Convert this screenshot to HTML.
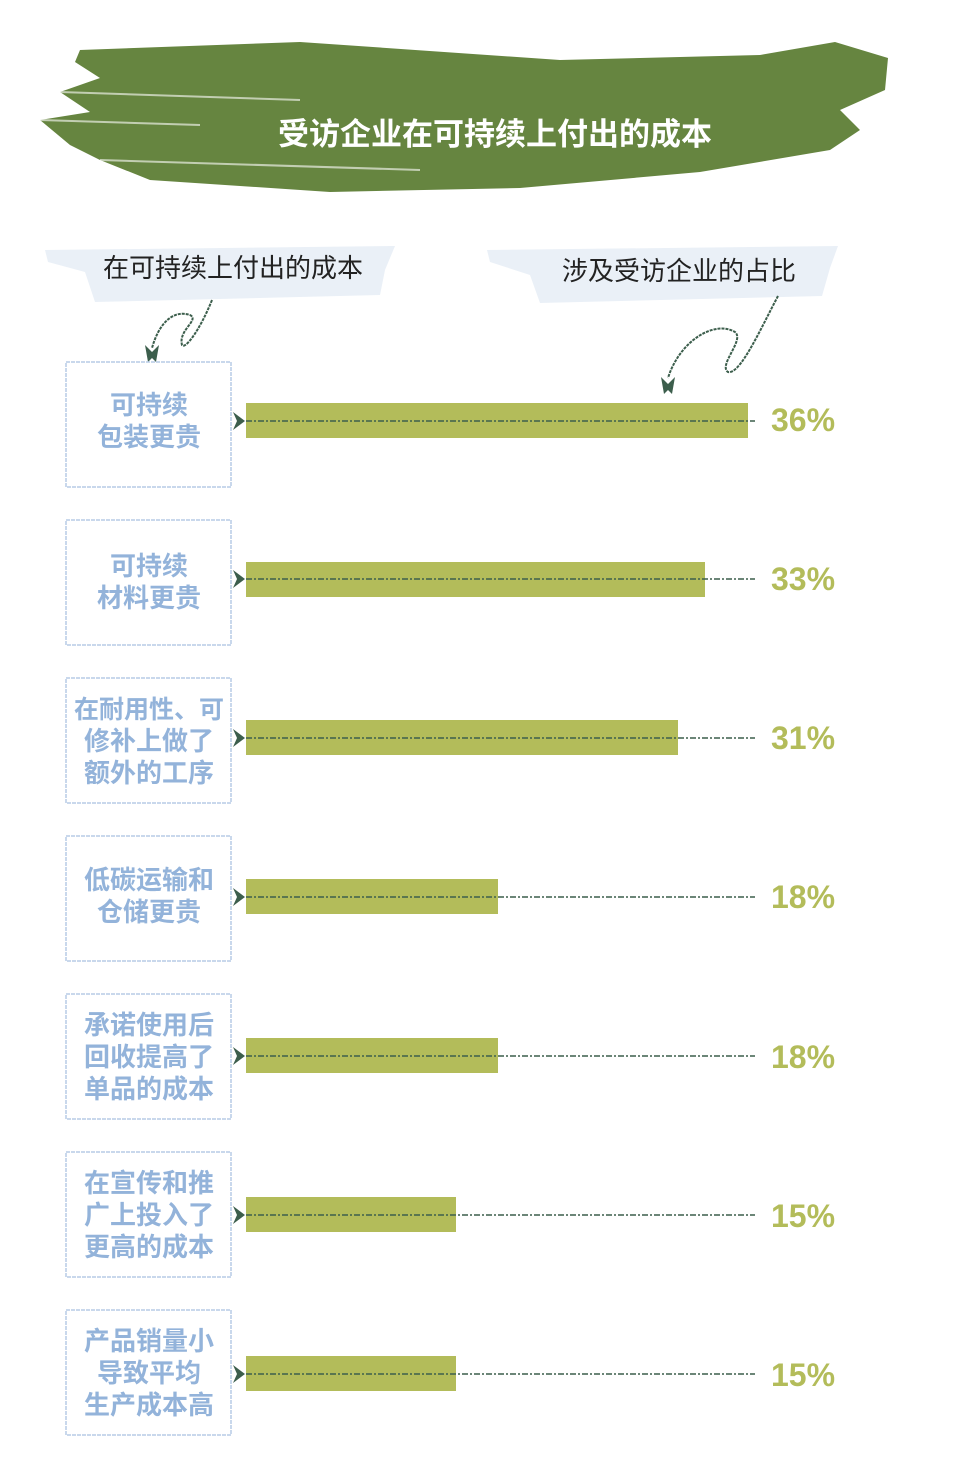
<!DOCTYPE html>
<html><head><meta charset="utf-8"><style>
body{margin:0;background:#fff;width:960px;height:1466px;overflow:hidden;font-family:"Liberation Sans","Noto Sans CJK SC",sans-serif}
</style></head><body>
<svg width="960" height="1466" viewBox="0 0 960 1466" xmlns="http://www.w3.org/2000/svg" font-family="Liberation Sans, Noto Sans CJK SC, sans-serif">
<!-- banner -->
<path d="M80 50 L300 42 L560 60 L760 55 L835 42 L888 58 L885 90 L840 110 L860 130 L830 150 L700 172 L520 188 L330 192 L150 180 L100 160 L70 145 L40 120 L90 112 L60 92 L100 78 L75 62 Z" fill="#668540"/>
<path d="M60 92 L300 100 M40 120 L200 125 M100 160 L420 170" stroke="#fff" stroke-width="2" opacity="0.6"/>
<text x="495" y="145" font-size="31" font-weight="bold" fill="#fff" text-anchor="middle">受访企业在可持续上付出的成本</text>
<!-- header brushes -->
<path d="M45 250 L395 246 L385 270 L380 295 L95 302 L85 272 L48 262 Z" fill="#eaf0f7"/>
<text x="233" y="277" font-size="26" fill="#222" text-anchor="middle">在可持续上付出的成本</text>
<path d="M487 250 L838 246 L830 268 L822 296 L540 303 L530 275 L490 262 Z" fill="#eaf0f7"/>
<text x="679" y="280" font-size="26" fill="#222" text-anchor="middle">涉及受访企业的占比</text>
<!-- curly arrows -->
<path d="M212 300 C200 330 185 350 182 345 C178 330 200 320 190 315 C175 310 160 320 152 348" fill="none" stroke="#3c5e4c" stroke-width="2" stroke-dasharray="3 1"/>
<path d="M145 345 L152 352 L159 345 L156 362 L152 358 L148 362 Z" fill="#3c5e4c"/>
<path d="M778 296 C760 330 740 375 728 372 C718 365 745 340 735 332 C715 320 680 340 668 378" fill="none" stroke="#3c5e4c" stroke-width="2" stroke-dasharray="3 1"/>
<path d="M661 377 L668 384 L675 377 L672 394 L668 390 L664 394 Z" fill="#3c5e4c"/>
<g font-weight="bold" font-size="26" fill="#93b3da" text-anchor="middle">
<rect x="66" y="362" width="165" height="125" fill="none" stroke="#b7cbe6" stroke-width="1.5" stroke-dasharray="4 1"/>
<text x="149" y="414">可持续</text><text x="149" y="446">包装更贵</text>
<rect x="66" y="520" width="165" height="125" fill="none" stroke="#b7cbe6" stroke-width="1.5" stroke-dasharray="4 1"/>
<text x="149" y="575">可持续</text><text x="149" y="607">材料更贵</text>
<rect x="66" y="678" width="165" height="125" fill="none" stroke="#b7cbe6" stroke-width="1.5" stroke-dasharray="4 1"/>
<text x="149" y="718" font-size="25">在耐用性、可</text><text x="149" y="750">修补上做了</text><text x="149" y="782">额外的工序</text>
<rect x="66" y="836" width="165" height="125" fill="none" stroke="#b7cbe6" stroke-width="1.5" stroke-dasharray="4 1"/>
<text x="149" y="889">低碳运输和</text><text x="149" y="921">仓储更贵</text>
<rect x="66" y="994" width="165" height="125" fill="none" stroke="#b7cbe6" stroke-width="1.5" stroke-dasharray="4 1"/>
<text x="149" y="1034">承诺使用后</text><text x="149" y="1066">回收提高了</text><text x="149" y="1098">单品的成本</text>
<rect x="66" y="1152" width="165" height="125" fill="none" stroke="#b7cbe6" stroke-width="1.5" stroke-dasharray="4 1"/>
<text x="149" y="1192">在宣传和推</text><text x="149" y="1224">广上投入了</text><text x="149" y="1256">更高的成本</text>
<rect x="66" y="1310" width="165" height="125" fill="none" stroke="#b7cbe6" stroke-width="1.5" stroke-dasharray="4 1"/>
<text x="149" y="1350">产品销量小</text><text x="149" y="1382">导致平均</text><text x="149" y="1414">生产成本高</text>
</g>
<g fill="#b3bc5a">
<rect x="246" y="403" width="502" height="35"/>
<rect x="246" y="562" width="459" height="35"/>
<rect x="246" y="720" width="432" height="35"/>
<rect x="246" y="879" width="252" height="35"/>
<rect x="246" y="1038" width="252" height="35"/>
<rect x="246" y="1197" width="210" height="35"/>
<rect x="246" y="1356" width="210" height="35"/>
</g>
<g stroke="#3c5e4c" stroke-width="1.5" stroke-dasharray="6 2 2 2">
<line x1="246" y1="421" x2="755" y2="421"/>
<line x1="246" y1="579" x2="755" y2="579"/>
<line x1="246" y1="738" x2="755" y2="738"/>
<line x1="246" y1="897" x2="755" y2="897"/>
<line x1="246" y1="1056" x2="755" y2="1056"/>
<line x1="246" y1="1215" x2="755" y2="1215"/>
<line x1="246" y1="1374" x2="755" y2="1374"/>
</g>
<g fill="#3c5e4c">
<path d="M233 412 L245 421 L233 430 L237 421 Z"/>
<path d="M233 570 L245 579 L233 588 L237 579 Z"/>
<path d="M233 729 L245 738 L233 747 L237 738 Z"/>
<path d="M233 888 L245 897 L233 906 L237 897 Z"/>
<path d="M233 1047 L245 1056 L233 1065 L237 1056 Z"/>
<path d="M233 1206 L245 1215 L233 1224 L237 1215 Z"/>
<path d="M233 1365 L245 1374 L233 1383 L237 1374 Z"/>
</g>
<g font-size="32" font-weight="bold" fill="#b3bc5a">
<text x="771" y="431">36%</text>
<text x="771" y="590">33%</text>
<text x="771" y="749">31%</text>
<text x="771" y="908">18%</text>
<text x="771" y="1068">18%</text>
<text x="771" y="1227">15%</text>
<text x="771" y="1386">15%</text>
</g>
</svg>
</body></html>
